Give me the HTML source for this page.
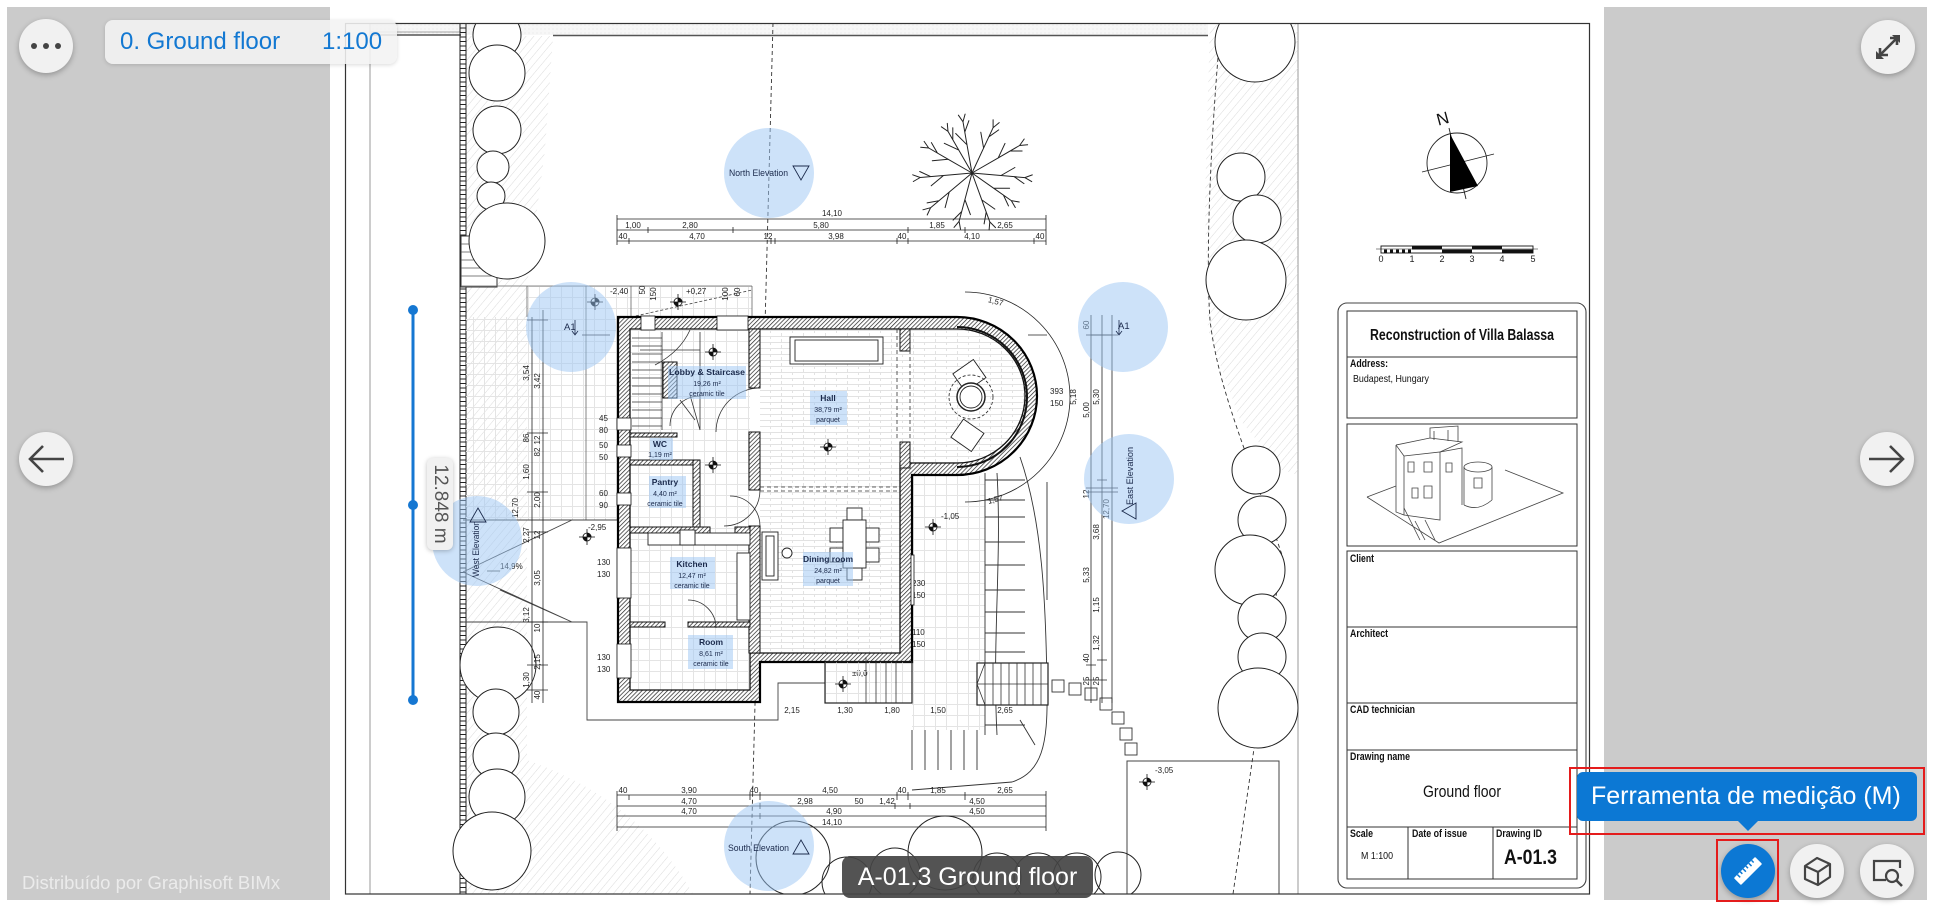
<!DOCTYPE html>
<html><head><meta charset="utf-8">
<style>
html,body{margin:0;padding:0}
body{width:1934px;height:907px;overflow:hidden;background:#fff;position:relative;font-family:"Liberation Sans",sans-serif}
.gray{position:absolute;left:7px;top:7px;width:1920px;height:893px;background:#cbcbcb}
svg.main{position:absolute;left:0;top:0}
.btn{position:absolute;width:54px;height:54px;border-radius:50%;background:#f1f1f1;box-shadow:0 2px 6px rgba(0,0,0,.28)}
.btn svg{position:absolute;left:0;top:0}
.pill{position:absolute;left:105px;top:20px;width:292px;height:44px;border-radius:8px;background:rgba(243,243,243,.88);box-shadow:0 1px 4px rgba(0,0,0,.15)}
.pill span{position:absolute;top:8px;font-size:24px;color:#1278d2;white-space:nowrap;line-height:28px}
.wm{position:absolute;left:22px;top:872px;font-size:18.5px;color:rgba(255,255,255,.62);white-space:nowrap}
.bpill{position:absolute;left:842px;top:856px;width:251px;height:42px;border-radius:8px;background:rgba(68,68,68,.92)}
.bpill span{position:absolute;left:0;width:251px;text-align:center;top:7px;font-size:25px;color:#fff;white-space:nowrap;line-height:28px}
.tip{position:absolute;left:1577px;top:772px;width:340px;height:49px;border-radius:6px;background:#0c78d4}
.tip span{position:absolute;left:14px;top:10px;font-size:25px;color:#fff;white-space:nowrap;line-height:29px}
.tipa{position:absolute;left:1737px;top:820px;width:0;height:0;border-left:11px solid transparent;border-right:11px solid transparent;border-top:11px solid #0c78d4}
.red{position:absolute;border:2.5px solid #e41c1c;box-sizing:border-box}
.mlab{position:absolute;left:427px;top:458px;width:26px;height:92px;border-radius:6px;background:#f1f1f1;box-shadow:0 1px 5px rgba(0,0,0,.25)}
.mlab span{position:absolute;left:-33px;top:33px;width:92px;text-align:center;font-size:19px;color:#555;transform:rotate(90deg);white-space:nowrap;line-height:26px}
</style></head>
<body>
<div class="gray"></div>
<svg class="main" width="1934" height="907" viewBox="0 0 1934 907" xmlns="http://www.w3.org/2000/svg">
<defs>
<clipPath id="fr"><rect x="345" y="23" width="1245" height="871"/></clipPath>
<pattern id="hl" width="6" height="6" patternUnits="userSpaceOnUse" patternTransform="rotate(40)"><line x1="0" y1="0" x2="0" y2="6" stroke="#d2d2d2" stroke-width="0.8"/></pattern>
<pattern id="wh" width="3" height="3" patternUnits="userSpaceOnUse" patternTransform="rotate(45)"><rect width="3" height="3" fill="#fff"/><line x1="0" y1="0" x2="0" y2="3" stroke="#222" stroke-width="1.4"/></pattern>
<pattern id="pl" width="22" height="6" patternUnits="userSpaceOnUse"><line x1="0" y1="0.5" x2="22" y2="0.5" stroke="#e2e2e2" stroke-width="1"/><line x1="0.5" y1="0" x2="0.5" y2="3" stroke="#e2e2e2"/><line x1="11.5" y1="3" x2="11.5" y2="6" stroke="#e2e2e2"/></pattern>
<pattern id="tg" width="11" height="11" patternUnits="userSpaceOnUse"><path d="M0 0.5H11M0.5 0V11" stroke="#e4e4e4" stroke-width="1" fill="none"/></pattern>
<pattern id="gv" width="4" height="4" patternUnits="userSpaceOnUse"><rect width="4" height="4" fill="#f7f7f7"/><circle cx="1" cy="1" r="0.5" fill="#ddd"/></pattern>
</defs>

<rect x="330" y="7" width="1274" height="893" fill="#fff"/>

<g clip-path="url(#fr)">
<rect x="371" y="24" width="837" height="11" fill="url(#gv)"/>
<line x1="371" y1="35" x2="461" y2="35" stroke="#555" stroke-width="1.5"/>
<line x1="371" y1="32" x2="461" y2="32" stroke="#888" stroke-width="0.8"/>
<line x1="553" y1="35.5" x2="1208" y2="35.5" stroke="#555" stroke-width="1.5"/>
<line x1="370" y1="23" x2="370" y2="894" stroke="#999" stroke-width="1"/>
<line x1="1298" y1="23" x2="1298" y2="894" stroke="#999" stroke-width="1"/>

<path d="M466,36 L553,36 L545,150 L527,285 L527,894 L466,894 Z" fill="url(#hl)"/>
<path d="M527,760 Q640,800 693,894 L527,894 Z" fill="url(#hl)"/>
<path d="M1210,23 L1298,23 L1298,475 L1282,470 L1240,420 L1208,330 L1205,200 Z" fill="url(#hl)"/>

<line x1="460" y1="23" x2="460" y2="894" stroke="#222" stroke-width="1"/>
<line x1="466" y1="23" x2="466" y2="894" stroke="#222" stroke-width="1"/>
<line x1="463" y1="23" x2="463" y2="894" stroke="#222" stroke-width="6" stroke-dasharray="1 3.5"/>
<rect x="461" y="236" width="36" height="51" fill="#fff" stroke="#333" stroke-width="1"/>
<path d="M461,244H497M461,252H497M461,260H497M461,268H497M461,276H497" stroke="#555" stroke-width="0.8"/>

<rect x="466" y="317" width="152" height="203" fill="url(#tg)"/>
<rect x="527" y="286" width="225" height="31" fill="url(#tg)"/>
<path d="M461,286H752M527,286V317M586,286V520M631,286V317M752,286V317" stroke="#666" stroke-width="0.8" fill="none"/>
<path d="M631,317L752,290" stroke="#444" stroke-width="0.8" stroke-dasharray="3 2" fill="none"/>
<path d="M463,520H618M463,572L572,520M463,572L572,622M500,590L572,622M463,622H587V720H778V683H825" stroke="#444" stroke-width="0.9" fill="none"/>
<rect x="912" y="476" width="73" height="254" fill="url(#tg)"/>
<path d="M985,473V735M985,480H1025M985,500H1025M985,517H1025M985,542H1025M985,565H1025M985,590H1025M985,612H1025M985,633H1025M985,652H1025M985,725H1025" stroke="#333" stroke-width="0.9" fill="none"/>
<path d="M997,473C1002,560 992,640 997,735" stroke="#333" stroke-width="0.9" fill="none"/>
<path d="M912,730V770M925,730V770M938,730V770M951,730V770M964,730V770M977,730V770" stroke="#333" stroke-width="0.9"/>
<path d="M1020,457C1042,520 1046,600 1047,690C1048,745 1042,772 1012,782L912,790" stroke="#333" stroke-width="0.9" fill="none"/>
<path d="M1047,482V600M1020,720L1035,745" stroke="#333" stroke-width="0.9" fill="none"/>
<rect x="977" y="663" width="71" height="42" fill="#fff" stroke="#222" stroke-width="1.2"/>
<path d="M985,663V705M993,663V705M1001,663V705M1009,663V705M1017,663V705M1025,663V705M1033,663V705M1041,663V705M977,684H1048M985,663L977,684L985,705" stroke="#333" stroke-width="0.8" fill="none"/>
<g fill="#fff" stroke="#333" stroke-width="0.9">
<rect x="1052" y="680" width="12" height="12"/><rect x="1069" y="683" width="12" height="12"/><rect x="1085" y="688" width="12" height="12"/><rect x="1100" y="698" width="12" height="12"/><rect x="1112" y="712" width="12" height="12"/><rect x="1120" y="728" width="12" height="12"/><rect x="1125" y="743" width="12" height="12"/>
</g>
<rect x="1127" y="761" width="152" height="140" fill="none" stroke="#444" stroke-width="1"/>

<path d="M773,23L750,894" stroke="#333" stroke-width="0.9" stroke-dasharray="4 3" fill="none"/>
<path d="M1221,23C1212,120 1205,250 1210,320C1218,390 1250,460 1282,555L1233,894" stroke="#333" stroke-width="0.9" stroke-dasharray="4 3" fill="none"/>

<g fill="#fff" stroke="#222" stroke-width="1">
<circle cx="497" cy="35" r="24"/><circle cx="497" cy="73" r="28"/><circle cx="497" cy="130" r="24"/><circle cx="493" cy="167" r="16"/><circle cx="491" cy="196" r="14"/><circle cx="507" cy="241" r="38"/>
<circle cx="498" cy="665" r="38"/><circle cx="496" cy="712" r="23"/><circle cx="496" cy="756" r="23"/><circle cx="497" cy="797" r="28"/><circle cx="492" cy="851" r="39"/>
<circle cx="1255" cy="42" r="40"/><circle cx="1241" cy="177" r="24"/><circle cx="1257" cy="219" r="24"/><circle cx="1246" cy="280" r="40"/>
<circle cx="1256" cy="470" r="24"/><circle cx="1262" cy="520" r="24"/><circle cx="1250" cy="570" r="35"/><circle cx="1262" cy="618" r="24"/><circle cx="1262" cy="657" r="24"/><circle cx="1258" cy="708" r="40"/>
<circle cx="793" cy="858" r="37" fill="none"/><circle cx="847" cy="882" r="25" fill="none"/><circle cx="895" cy="873" r="25" fill="none"/><circle cx="945" cy="853" r="37" fill="none"/><circle cx="997" cy="877" r="24" fill="none"/><circle cx="1038" cy="877" r="24" fill="none"/><circle cx="1077" cy="877" r="24" fill="none"/><circle cx="1118" cy="875" r="23" fill="none"/>
</g>

<!-- deciduous tree -->
<g stroke="#222" stroke-width="1" fill="none" stroke-linecap="round">
<path d="M972,173L967,144.8L963,121.8M967,144.8L955.7,133.5M964.8,132L968.9,120.7M963,121.8L958.4,115.2M963,121.8L965.1,114.1"/>
<path d="M972,173L983.6,148.1L993.1,127.7M983.6,148.1L980.8,132.3M988.9,136.8L998.7,129.9M993.1,127.7L993.1,119.7M993.1,127.7L999.2,122.6"/>
<path d="M972,173L998.2,157.9L1019.6,145.5M998.2,157.9L1005,143.4M1010.1,151L1022.1,151M1019.6,145.5L1024.2,139M1019.6,145.5L1027.6,144.8"/>
<path d="M972,173L1001,175.5L1024.8,177.6M1001,175.5L1014.9,167.5M1014.2,176.7L1024,183.6M1024.8,177.6L1032.3,174.9M1024.8,177.6L1031.7,181.6"/>
<path d="M972,173L993.6,188.2L1011.3,200.6M993.6,188.2L1009.6,188.2M1003.4,195L1008.5,205.9M1011.3,200.6L1019.2,202M1011.3,200.6L1015.3,207.5"/>
<path d="M972,173L981.8,199.9L989.8,221.9M981.8,199.9L994.9,209.1M986.2,212.1L984.1,223.9M989.8,221.9L995.5,227.6M989.8,221.9L989.1,229.9"/>
<path d="M972,173L964.9,199.6L959.1,221.3M964.9,199.6L970.4,214.6M961.6,211.6L953.1,220.1M959.1,221.3L960.5,229.2M959.1,221.3L954,227.4"/>
<path d="M972,173L949.2,192.1L930.6,207.7M949.2,192.1L945.1,207.6M938.9,200.8L927.1,202.9M930.6,207.7L927.2,215M930.6,207.7L922.9,209.8"/>
<path d="M972,173L943.5,175.5L920.2,177.5M943.5,175.5L931.2,185.8M930.6,176.6L919.7,171.5M920.2,177.5L913.3,181.5M920.2,177.5L912.7,174.8"/>
<path d="M972,173L948.2,159.3L928.7,148M948.2,159.3L932.3,160.7M937.4,153L931.4,142.6M928.7,148L920.7,147.3M928.7,148L924.1,141.4"/>
<path d="M972,173L958.8,150.1L948,131.4M958.8,150.1L944.3,143.3M952.8,139.7L952.8,127.7M948,131.4L941.4,126.8M948,131.4L947.3,123.4"/>
</g>

<g stroke="#222" stroke-width="0.8" fill="none">
<path d="M617,219H1046M617,230H1046M617,241H1046"/>
<path d="M617,215V245M648,227V233M733,227V233M908,227V233M965,227V233M1046,215V245M629,238V244M771,238V244M775,238V244M897,238V244M908,238V244M1034,238V244"/>
<path d="M617,795H1046M617,806H1046M617,816H1046M617,827H1046"/>
<path d="M617,791V831M629,795V800M750,792V800M760,792V800M897,792V800M908,792V800M965,792V800M760,803V809M895,803V809M910,803V809M1046,791V831M760,813V819"/>
<path d="M532,317V703M543,310V703M527,320H548M527,433H548M527,492H548M527,532H548M527,622H548M527,665H548M527,690H548"/>
<path d="M1091,315V703M1102,315V703M1112,315V703M1086,335H1118M1086,488H1118M1086,492H1118M1097,480H1107M1097,660H1107M1086,665H1096M1086,680H1107"/>
<path d="M965,292A105,105 0 0 1 965,502"/>
<path d="M582,335H610M1091,335H1112M1028,335H1047"/>
</g>
<g font-family="Liberation Sans,sans-serif" font-size="8" fill="#222">
<text x="832" y="216" text-anchor="middle">14,10</text>
<text x="633" y="228" text-anchor="middle">1,00</text><text x="690" y="228" text-anchor="middle">2,80</text><text x="821" y="228" text-anchor="middle">5,80</text><text x="937" y="228" text-anchor="middle">1,85</text><text x="1005" y="228" text-anchor="middle">2,65</text>
<text x="623" y="239" text-anchor="middle">40</text><text x="697" y="239" text-anchor="middle">4,70</text><text x="768" y="239" text-anchor="middle">12</text><text x="836" y="239" text-anchor="middle">3,98</text><text x="902" y="239" text-anchor="middle">40</text><text x="972" y="239" text-anchor="middle">4,10</text><text x="1040" y="239" text-anchor="middle">40</text>
<text x="623" y="793" text-anchor="middle">40</text><text x="689" y="793" text-anchor="middle">3,90</text><text x="754" y="793" text-anchor="middle">40</text><text x="830" y="793" text-anchor="middle">4,50</text><text x="902" y="793" text-anchor="middle">40</text><text x="938" y="793" text-anchor="middle">1,85</text><text x="1005" y="793" text-anchor="middle">2,65</text>
<text x="689" y="804" text-anchor="middle">4,70</text><text x="805" y="804" text-anchor="middle">2,98</text><text x="859" y="804" text-anchor="middle">50</text><text x="887" y="804" text-anchor="middle">1,42</text><text x="977" y="804" text-anchor="middle">4,50</text>
<text x="689" y="814" text-anchor="middle">4,70</text><text x="834" y="814" text-anchor="middle">4,90</text><text x="977" y="814" text-anchor="middle">4,50</text>
<text x="832" y="825" text-anchor="middle">14,10</text>
<text x="792" y="713" text-anchor="middle">2,15</text><text x="845" y="713" text-anchor="middle">1,30</text><text x="892" y="713" text-anchor="middle">1,80</text><text x="938" y="713" text-anchor="middle">1,50</text><text x="1005" y="713" text-anchor="middle">2,65</text>
<text transform="rotate(-90 529 373)" x="529" y="373" text-anchor="middle">3,54</text>
<text transform="rotate(-90 540 381)" x="540" y="381" text-anchor="middle">3,42</text>
<text transform="rotate(-90 529 438)" x="529" y="438" text-anchor="middle">86</text>
<text transform="rotate(-90 540 452)" x="540" y="452" text-anchor="middle">82</text>
<text transform="rotate(-90 540 440)" x="540" y="440" text-anchor="middle">12</text>
<text transform="rotate(-90 529 472)" x="529" y="472" text-anchor="middle">1,60</text>
<text transform="rotate(-90 540 500)" x="540" y="500" text-anchor="middle">2,00</text>
<text transform="rotate(-90 518 508)" x="518" y="508" text-anchor="middle">12,70</text>
<text transform="rotate(-90 529 535)" x="529" y="535" text-anchor="middle">2,27</text>
<text transform="rotate(-90 540 535)" x="540" y="535" text-anchor="middle">12</text>
<text transform="rotate(-90 540 578)" x="540" y="578" text-anchor="middle">3,05</text>
<text transform="rotate(-90 529 615)" x="529" y="615" text-anchor="middle">3,12</text>
<text transform="rotate(-90 540 628)" x="540" y="628" text-anchor="middle">10</text>
<text transform="rotate(-90 540 662)" x="540" y="662" text-anchor="middle">2,15</text>
<text transform="rotate(-90 529 680)" x="529" y="680" text-anchor="middle">1,30</text>
<text transform="rotate(-90 540 695)" x="540" y="695" text-anchor="middle">40</text>
<text transform="rotate(-90 1089 325)" x="1089" y="325" text-anchor="middle">60</text>
<text transform="rotate(-90 1089 410)" x="1089" y="410" text-anchor="middle">5,00</text>
<text transform="rotate(-90 1099 397)" x="1099" y="397" text-anchor="middle">5,30</text>
<text transform="rotate(-90 1089 494)" x="1089" y="494" text-anchor="middle">12</text>
<text transform="rotate(-90 1109 509)" x="1109" y="509" text-anchor="middle">12,70</text>
<text transform="rotate(-90 1099 532)" x="1099" y="532" text-anchor="middle">3,68</text>
<text transform="rotate(-90 1089 575)" x="1089" y="575" text-anchor="middle">5,33</text>
<text transform="rotate(-90 1099 605)" x="1099" y="605" text-anchor="middle">1,15</text>
<text transform="rotate(-90 1099 643)" x="1099" y="643" text-anchor="middle">1,32</text>
<text transform="rotate(-90 1089 658)" x="1089" y="658" text-anchor="middle">40</text>
<text transform="rotate(-90 1089 681)" x="1089" y="681" text-anchor="middle">25</text>
<text transform="rotate(-90 1099 681)" x="1099" y="681" text-anchor="middle">25</text>
<text transform="rotate(-90 1076 397)" x="1076" y="397" text-anchor="middle">5,18</text>
<text transform="rotate(15 995 304)" x="995" y="304" text-anchor="middle">1,57</text>
<text transform="rotate(-15 996 502)" x="996" y="502" text-anchor="middle">1,57</text>
<text x="610" y="294">-2,40</text><text x="686" y="294">+0,27</text>
<text x="1155" y="773">-3,05</text><text x="941" y="519">-1,05</text><text x="588" y="530">-2,95</text>
<text x="720" y="457">±0,00</text><text x="836" y="440">±0,00</text><text x="852" y="676">±0,0</text>
<text x="720" y="337">Sill 210</text><text x="723" y="345">+0,30</text>
<text x="765" y="408">140</text><text x="765" y="420">210</text>
<text x="686" y="416">90</text><text x="686" y="428">210</text>
<text x="686" y="447">75</text><text x="686" y="459">210</text>
<text x="710" y="499">75</text><text x="708" y="511">210</text>
<text x="770" y="499">75</text><text x="768" y="511">210</text>
<text x="882" y="394">290</text><text x="882" y="406">310</text>
<text x="1050" y="394">393</text><text x="1050" y="406">150</text>
<text x="912" y="586">230</text><text x="912" y="598">150</text>
<text x="912" y="635">110</text><text x="912" y="647">150</text>
<text x="599" y="421">45</text><text x="599" y="433">80</text>
<text x="599" y="448">50</text><text x="599" y="460">50</text>
<text x="599" y="496">60</text><text x="599" y="508">90</text>
<text x="597" y="565">130</text><text x="597" y="577">130</text>
<text x="597" y="660">130</text><text x="597" y="672">130</text>
<text x="500" y="569">14,9%</text>
<text transform="rotate(-90 826 478)" x="826" y="478" text-anchor="middle">330</text>
<text transform="rotate(-90 837 478)" x="837" y="478" text-anchor="middle">270</text>
<text transform="rotate(-90 1031 397)" x="1031" y="397" text-anchor="middle">Sill 90</text>
<text transform="rotate(-90 638 420)" x="638" y="420" text-anchor="middle">Sill 110</text>
<text transform="rotate(-90 638 503)" x="638" y="503" text-anchor="middle">Sill 190</text>
<text transform="rotate(-90 638 568)" x="638" y="568" text-anchor="middle">Sill 110</text>
<text transform="rotate(-90 638 663)" x="638" y="663" text-anchor="middle">Sill 110</text>
<text transform="rotate(-90 905 602)" x="905" y="602" text-anchor="middle">Sill 90</text>
<text transform="rotate(-90 645 290)" x="645" y="290" text-anchor="middle">50</text>
<text transform="rotate(-90 656 294)" x="656" y="294" text-anchor="middle">150</text>
<text transform="rotate(-90 728 294)" x="728" y="294" text-anchor="middle">100</text>
<text transform="rotate(-90 740 292)" x="740" y="292" text-anchor="middle">60</text>
</g>
<path d="M500,571H487" stroke="#222" stroke-width="0.7"/>

<path d="M630,329H957A68,67 0 0 1 957,463H900V653H750V690H630Z" fill="#fff"/>
<rect x="760" y="329" width="140" height="324" fill="url(#pl)"/>
<path d="M900,329H957A68,67 0 0 1 957,463H900Z" fill="url(#pl)"/>
<rect x="630" y="329" width="120" height="361" fill="url(#tg)"/>

<path fill-rule="evenodd" d="M618,317H957A80,79 0 0 1 957,475H912V662H760V702H618Z M630,329H957A68,67 0 0 1 957,463H900V653H750V690H630Z" fill="url(#wh)" stroke="#111" stroke-width="1.3"/>
<path d="M618,317H957A80,79 0 0 1 957,475H912V662H760V702H618Z" fill="none" stroke="#000" stroke-width="2.2"/>
<g fill="url(#wh)" stroke="#111" stroke-width="1">
<rect x="749" y="329" width="11" height="59"/><rect x="749" y="432" width="11" height="58"/><rect x="749" y="526" width="11" height="127"/>
<rect x="630" y="433" width="47" height="4"/><rect x="630" y="460" width="70" height="5"/><rect x="693" y="460" width="7" height="68"/>
<rect x="630" y="527" width="80" height="6"/><rect x="735" y="527" width="15" height="6"/>
<rect x="630" y="622" width="35" height="5"/><rect x="688" y="622" width="62" height="5"/>
<rect x="663" y="362" width="14" height="36"/>
<rect x="900" y="329" width="10" height="22"/><rect x="900" y="442" width="10" height="26"/>
</g>
<g fill="#fff" stroke="#111" stroke-width="0.8">
<rect x="641" y="316" width="14" height="14"/><rect x="717" y="316" width="31" height="14"/>
<rect x="617" y="418" width="14" height="12"/><rect x="617" y="445" width="14" height="12"/><rect x="617" y="493" width="14" height="12"/><rect x="617" y="548" width="14" height="50"/><rect x="617" y="644" width="14" height="34"/>
<rect x="911" y="555" width="3" height="50" fill="#fff"/>
</g>
<g stroke="#333" stroke-width="0.8" fill="none">
<path d="M632,338H662M632,346H662M632,354H662M632,362H662M632,370H662M632,378H662M632,386H662M632,394H662M632,402H662M632,410H662M632,418H662M632,426H662"/>
<path d="M662,332V430M700,332V430M640,350L700,350M655,365Q680,352 690,330M680,400L695,420M690,395L700,430"/>
<path d="M700,396A30,30 0 0 0 670,426M760,388A44,44 0 0 0 716,432M760,490A36,36 0 0 1 724,526M688,600A28,28 0 0 1 716,628M760,526A30,30 0 0 0 730,496"/>
</g>
<g fill="#fff" stroke="#222" stroke-width="0.9">
<rect x="790" y="337" width="93" height="27"/><rect x="795" y="340" width="83" height="21"/>
<rect x="830" y="528" width="13" height="14"/><rect x="830" y="548" width="13" height="14"/><rect x="866" y="528" width="13" height="14"/><rect x="866" y="548" width="13" height="14"/><rect x="847" y="508" width="15" height="12"/><rect x="847" y="568" width="15" height="12"/>
<rect x="843" y="520" width="23" height="48"/>
<rect x="762" y="532" width="16" height="48"/><rect x="766" y="536" width="8" height="40"/>
<rect x="648" y="533" width="102" height="12"/><rect x="737" y="553" width="13" height="67"/><rect x="680" y="530" width="15" height="15"/>
<circle cx="787" cy="553" r="5"/>
<rect x="957" y="365" width="25" height="22" transform="rotate(-35 969 376)"/>
<rect x="955" y="424" width="25" height="22" transform="rotate(35 967 435)"/>
<circle cx="971" cy="397" r="14" stroke-width="1.5"/><circle cx="971" cy="397" r="11"/>
</g>
<circle cx="971" cy="397" r="22" fill="none" stroke="#222" stroke-width="0.8" stroke-dasharray="3 2"/>
<path d="M957,327A70,70 0 0 1 957,467" fill="none" stroke="#111" stroke-width="2"/>
<path d="M897,329V438M910,329V438M760,487H900M760,491H900" stroke="#333" stroke-width="0.8" stroke-dasharray="4 3" fill="none"/>
<rect x="825" y="662" width="87" height="41" fill="url(#tg)" stroke="#222" stroke-width="1.2"/>
<path d="M866,662V703M876,662V703M886,662V703M896,662V703M866,657V662" stroke="#333" stroke-width="0.8"/>

<g stroke="#111" stroke-width="0.8">
<g transform="translate(595 302)"><path d="M-8,0H8M0,-8V8" fill="none"/><circle r="4" fill="#fff"/><path d="M0,-4A4,4 0 0 1 4,0H0ZM0,4A4,4 0 0 1 -4,0H0Z" fill="#111"/></g>
<g transform="translate(678 302)"><path d="M-8,0H8M0,-8V8" fill="none"/><circle r="4" fill="#fff"/><path d="M0,-4A4,4 0 0 1 4,0H0ZM0,4A4,4 0 0 1 -4,0H0Z" fill="#111"/></g>
<g transform="translate(713 352)"><path d="M-8,0H8M0,-8V8" fill="none"/><circle r="4" fill="#fff"/><path d="M0,-4A4,4 0 0 1 4,0H0ZM0,4A4,4 0 0 1 -4,0H0Z" fill="#111"/></g>
<g transform="translate(713 465)"><path d="M-8,0H8M0,-8V8" fill="none"/><circle r="4" fill="#fff"/><path d="M0,-4A4,4 0 0 1 4,0H0ZM0,4A4,4 0 0 1 -4,0H0Z" fill="#111"/></g>
<g transform="translate(828 447)"><path d="M-8,0H8M0,-8V8" fill="none"/><circle r="4" fill="#fff"/><path d="M0,-4A4,4 0 0 1 4,0H0ZM0,4A4,4 0 0 1 -4,0H0Z" fill="#111"/></g>
<g transform="translate(587 537)"><path d="M-8,0H8M0,-8V8" fill="none"/><circle r="4" fill="#fff"/><path d="M0,-4A4,4 0 0 1 4,0H0ZM0,4A4,4 0 0 1 -4,0H0Z" fill="#111"/></g>
<g transform="translate(933 527)"><path d="M-8,0H8M0,-8V8" fill="none"/><circle r="4" fill="#fff"/><path d="M0,-4A4,4 0 0 1 4,0H0ZM0,4A4,4 0 0 1 -4,0H0Z" fill="#111"/></g>
<g transform="translate(843 684)"><path d="M-8,0H8M0,-8V8" fill="none"/><circle r="4" fill="#fff"/><path d="M0,-4A4,4 0 0 1 4,0H0ZM0,4A4,4 0 0 1 -4,0H0Z" fill="#111"/></g>
<g transform="translate(1147 782)"><path d="M-8,0H8M0,-8V8" fill="none"/><circle r="4" fill="#fff"/><path d="M0,-4A4,4 0 0 1 4,0H0ZM0,4A4,4 0 0 1 -4,0H0Z" fill="#111"/></g>
</g>

<g fill="#9cc6f4" opacity="0.5">
<rect x="668" y="366" width="78" height="33"/><rect x="810" y="391" width="37" height="34"/><rect x="650" y="438" width="23" height="22"/><rect x="649" y="476" width="37" height="32"/><rect x="670" y="557" width="45" height="32"/><rect x="803" y="552" width="50" height="34"/><rect x="688" y="635" width="45" height="34"/>
</g>
<g font-family="Liberation Sans,sans-serif" fill="#1b2a4c" text-anchor="middle" font-size="7">
<text x="707" y="375" font-weight="bold" font-size="8.5" textLength="76" lengthAdjust="spacingAndGlyphs">Lobby &amp; Staircase</text><text x="707" y="386">19,26 m²</text><text x="707" y="396">ceramic tile</text>
<text x="828" y="401" font-weight="bold" font-size="8.5">Hall</text><text x="828" y="412">38,79 m²</text><text x="828" y="422">parquet</text>
<text x="660" y="447" font-weight="bold" font-size="8.5">WC</text><text x="660" y="457">1,19 m²</text>
<text x="665" y="485" font-weight="bold" font-size="8.5">Pantry</text><text x="665" y="496">4,40 m²</text><text x="665" y="506">ceramic tile</text>
<text x="692" y="567" font-weight="bold" font-size="8.5">Kitchen</text><text x="692" y="578">12,47 m²</text><text x="692" y="588">ceramic tile</text>
<text x="828" y="562" font-weight="bold" font-size="8.5">Dining room</text><text x="828" y="573">24,82 m²</text><text x="828" y="583">parquet</text>
<text x="711" y="645" font-weight="bold" font-size="8.5">Room</text><text x="711" y="656">8,61 m²</text><text x="711" y="666">ceramic tile</text>
</g>

<g fill="#9cc6f4" opacity="0.5">
<circle cx="769" cy="173" r="45"/><circle cx="571" cy="327" r="45"/><circle cx="477" cy="541" r="45"/><circle cx="769" cy="846" r="45"/><circle cx="1123" cy="327" r="45"/><circle cx="1129" cy="479" r="45"/>
</g>
<g font-family="Liberation Sans,sans-serif" font-size="9.5" fill="#1b2a4c">
<text x="729" y="176" textLength="59" lengthAdjust="spacingAndGlyphs">North Elevation</text>
<path d="M793,166H809L801,180Z" fill="none" stroke="#1b2a4c" stroke-width="0.9"/>
<text x="728" y="851" textLength="61" lengthAdjust="spacingAndGlyphs">South Elevation</text>
<path d="M793,854H809L801,840Z" fill="none" stroke="#1b2a4c" stroke-width="0.9"/>
<text transform="rotate(-90 1133 505)" x="1133" y="505" textLength="58" lengthAdjust="spacingAndGlyphs">East Elevation</text>
<path d="M1136,503V519L1122,511Z" fill="none" stroke="#1b2a4c" stroke-width="0.9"/>
<text transform="rotate(-90 479 577)" x="479" y="577" textLength="56" lengthAdjust="spacingAndGlyphs">West Elevation</text>
<path d="M470,522H486L478,508Z" fill="none" stroke="#1b2a4c" stroke-width="0.9"/>
<text x="564" y="330">A1</text><text x="1118" y="329">A1</text>
</g>
<path d="M575,320V334M572,331L575,335L578,331M1119,320V334M1116,331L1119,335L1122,331" stroke="#1b2a4c" stroke-width="0.8" fill="none"/>
</g>

<rect x="345.5" y="23.5" width="1244" height="870.5" fill="none" stroke="#333" stroke-width="1.2"/>

<g stroke="#222" stroke-width="0.9" fill="none">
<circle cx="1457" cy="163" r="30"/>
<path d="M1422,172L1494,154M1449,128L1466,199"/>
</g>
<path d="M1450,134L1478,186L1450,192Z" fill="#000"/>
<text transform="rotate(-15 1445 124)" x="1438" y="124" font-family="Liberation Sans,sans-serif" font-size="17" fill="#111">N</text>
<g>
<rect x="1381" y="246" width="152" height="7" fill="#fff" stroke="#111" stroke-width="0.9"/>
<rect x="1412" y="246" width="30" height="3.5" fill="#111"/><rect x="1472" y="246" width="30" height="3.5" fill="#111"/>
<rect x="1442" y="249.5" width="30" height="3.5" fill="#111"/><rect x="1502" y="249.5" width="31" height="3.5" fill="#111"/>
<path d="M1384,249.5h3v3.5h-3zM1390,249.5h3v3.5h-3zM1396,249.5h3v3.5h-3zM1402,249.5h3v3.5h-3zM1408,249.5h3v3.5h-3z" fill="#111"/>
<line x1="1376" y1="249" x2="1538" y2="249" stroke="#111" stroke-width="0.6"/>
<g font-family="Liberation Sans,sans-serif" font-size="9" fill="#222" text-anchor="middle">
<text x="1381" y="262">0</text><text x="1412" y="262">1</text><text x="1442" y="262">2</text><text x="1472" y="262">3</text><text x="1502" y="262">4</text><text x="1533" y="262">5</text>
</g>
</g>

<rect x="1338" y="303" width="248" height="585" rx="9" fill="#fff" stroke="#444" stroke-width="1.1"/>
<g fill="none" stroke="#333" stroke-width="1">
<rect x="1347" y="311" width="230" height="107"/><line x1="1347" y1="357" x2="1577" y2="357"/>
<rect x="1347" y="424" width="230" height="122"/>
<rect x="1347" y="551" width="230" height="328"/>
<path d="M1347,627H1577M1347,703H1577M1347,750H1577M1347,827H1577M1408,827V879M1493,827V879"/>
</g>
<g font-family="Liberation Sans,sans-serif" fill="#111">
<text x="1462" y="340" text-anchor="middle" font-weight="bold" font-size="16" textLength="184" lengthAdjust="spacingAndGlyphs">Reconstruction of Villa Balassa</text>
<text x="1350" y="367" font-weight="bold" font-size="11" textLength="38" lengthAdjust="spacingAndGlyphs">Address:</text>
<text x="1353" y="382" font-size="10.5" textLength="76" lengthAdjust="spacingAndGlyphs">Budapest, Hungary</text>
<text x="1350" y="562" font-weight="bold" font-size="11" textLength="24" lengthAdjust="spacingAndGlyphs">Client</text>
<text x="1350" y="637" font-weight="bold" font-size="11" textLength="38" lengthAdjust="spacingAndGlyphs">Architect</text>
<text x="1350" y="713" font-weight="bold" font-size="11" textLength="65" lengthAdjust="spacingAndGlyphs">CAD technician</text>
<text x="1350" y="760" font-weight="bold" font-size="11" textLength="60" lengthAdjust="spacingAndGlyphs">Drawing name</text>
<text x="1462" y="797" text-anchor="middle" font-size="17" textLength="78" lengthAdjust="spacingAndGlyphs">Ground floor</text>
<text x="1350" y="837" font-weight="bold" font-size="11" textLength="23" lengthAdjust="spacingAndGlyphs">Scale</text>
<text x="1412" y="837" font-weight="bold" font-size="11" textLength="55" lengthAdjust="spacingAndGlyphs">Date of issue</text>
<text x="1496" y="837" font-weight="bold" font-size="11" textLength="46" lengthAdjust="spacingAndGlyphs">Drawing ID</text>
<text x="1361" y="859" font-size="10" textLength="32" lengthAdjust="spacingAndGlyphs">M 1:100</text>
<text x="1504" y="864" font-weight="bold" font-size="21" textLength="53" lengthAdjust="spacingAndGlyphs">A-01.3</text>
</g>
<g fill="none" stroke="#444" stroke-width="0.8">
<path d="M1367,497L1439,543L1563,493L1505,470M1367,497L1396,486M1404,508L1420,540"/>
<path d="M1396,445V512L1404,515V456L1396,445M1404,456L1440,452V520L1404,515M1440,452L1462,448V505"/>
<path d="M1396,445L1430,438L1462,442L1440,452M1430,438V428L1458,426V442M1434,431V440M1448,430V441"/>
<ellipse cx="1478" cy="467" rx="14" ry="5"/><path d="M1464,467V505M1492,467V500M1464,505Q1478,512 1492,500"/>
<path d="M1408,462h6v10h-6zM1424,462h8v10h-8zM1424,486h8v12h-8zM1446,463h6v9h-6zM1474,478h8v10h-8zM1412,488h6v10h-6z"/>
<path d="M1425,520L1435,540M1415,521L1425,540"/>
</g>
</svg>

<svg style="position:absolute;left:400px;top:300px" width="30" height="410">
<line x1="13" y1="10" x2="13" y2="400" stroke="#1577d2" stroke-width="3"/>
<circle cx="13" cy="10" r="5" fill="#1577d2"/><circle cx="13" cy="205" r="5" fill="#1577d2"/><circle cx="13" cy="400" r="5" fill="#1577d2"/>
</svg>
<div class="mlab"><span>12.848 m</span></div>

<div class="btn" style="left:19px;top:19px"><svg width="54" height="54"><circle cx="15" cy="27" r="3" fill="#444"/><circle cx="27" cy="27" r="3" fill="#444"/><circle cx="39" cy="27" r="3" fill="#444"/></svg></div>
<div class="pill"><span style="left:15px">0. Ground floor</span><span style="left:217px">1:100</span></div>
<div class="btn" style="left:1861px;top:20px"><svg width="54" height="54"><path d="M20,34L35,19M29,18H36V25M27,35H19V28" stroke="#444" stroke-width="2.6" fill="none"/><path d="M31,15L39,15L39,23Z M15,31L15,39L23,39Z" fill="#444"/></svg></div>
<div class="btn" style="left:19px;top:432px"><svg width="54" height="54"><path d="M11,27H45M24,14L11,27L24,40" stroke="#444" stroke-width="2.6" fill="none"/></svg></div>
<div class="btn" style="left:1860px;top:432px"><svg width="54" height="54"><path d="M9,27H43M30,14L43,27L30,40" stroke="#444" stroke-width="2.6" fill="none"/></svg></div>
<div class="btn" style="left:1721px;top:844px;background:#0c78d4"><svg width="54" height="54"><g transform="rotate(-45 27 27)"><rect x="12" y="22" width="30" height="10" rx="1" fill="#fff"/><path d="M17,22v4M21,22v3M25,22v4M29,22v3M33,22v4M37,22v3" stroke="#0c78d4" stroke-width="1.5"/></g></svg></div>
<div class="btn" style="left:1790px;top:844px"><svg width="54" height="54"><path d="M15,22L27,14L40,20V33L28,41L15,35Z M15,22L28,28L40,20M28,28V41" stroke="#444" stroke-width="2.2" fill="none" stroke-linejoin="round"/></svg></div>
<div class="btn" style="left:1860px;top:844px"><svg width="54" height="54"><path d="M26,36H14V17H40V24" stroke="#444" stroke-width="2.2" fill="none"/><circle cx="32" cy="32" r="6" stroke="#444" stroke-width="2.2" fill="none"/><path d="M36,36L42,42" stroke="#444" stroke-width="2.6"/></svg></div>
<div class="tip"><span>Ferramenta de medição (M)</span></div>
<div class="tipa"></div>
<div class="red" style="left:1569px;top:767px;width:356px;height:68px"></div>
<div class="red" style="left:1716px;top:839px;width:63px;height:63px"></div>
<div class="bpill"><span>A-01.3 Ground floor</span></div>
<div class="wm">Distribuído por Graphisoft BIMx</div>
</body></html>
